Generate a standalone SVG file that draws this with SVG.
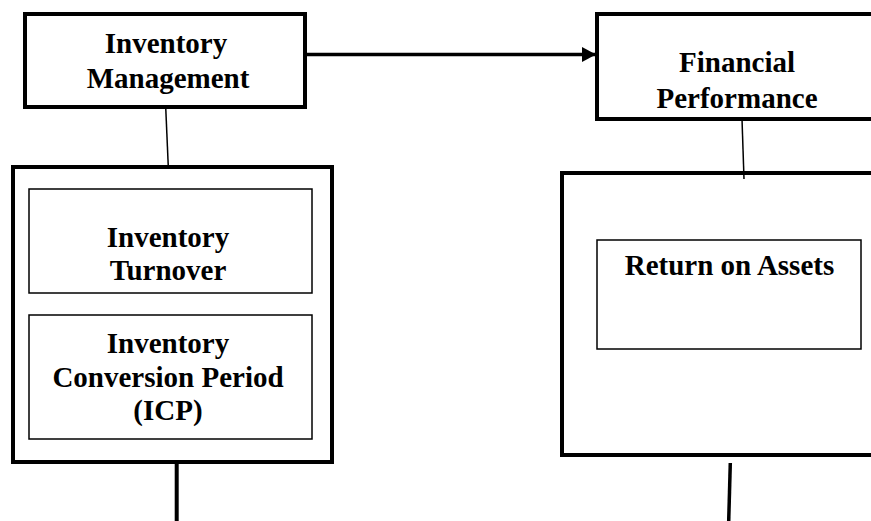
<svg xmlns="http://www.w3.org/2000/svg" width="871" height="521" viewBox="0 0 871 521">
<style>
  .thick { fill: #fff; stroke: #000; stroke-width: 4; }
  .thin { fill: #fff; stroke: #000; stroke-width: 1.5; }
  .lbl { font-family: "Liberation Serif", "Times New Roman", serif; font-weight: bold; font-size: 29px; fill: #000; text-anchor: middle; }
  .c1 { stroke: #000; stroke-width: 1.5; fill: none; }
  .c3 { stroke: #000; stroke-width: 3.5; fill: none; }
</style>
<defs>
  <marker id="ah" markerWidth="14" markerHeight="15" refX="13" refY="7.5" orient="auto" markerUnits="userSpaceOnUse">
    <path d="M0,0 L14,7.5 L0,15 Z" fill="#000"/>
  </marker>
</defs>
<rect width="871" height="521" fill="#fff"/>
<g id="n-inv-mgmt">
  <rect class="thick" x="25" y="14" width="280" height="93"/>
  <text class="lbl" x="166" y="53">Inventory</text>
  <text class="lbl" x="168" y="88">Management</text>
</g>
<g id="n-fin-perf">
  <rect class="thick" x="597" y="14" width="285" height="105"/>
  <text class="lbl" x="737" y="72">Financial</text>
  <text class="lbl" x="737" y="108">Performance</text>
</g>
<g id="n-left-group">
  <rect class="thick" x="13" y="167" width="319" height="295"/>
</g>
<g id="n-inv-turnover">
  <rect class="thin" x="29" y="189" width="283" height="104"/>
  <text class="lbl" x="168" y="247">Inventory</text>
  <text class="lbl" x="168" y="280">Turnover</text>
</g>
<g id="n-icp">
  <rect class="thin" x="29" y="315" width="283" height="124"/>
  <text class="lbl" x="168" y="353">Inventory</text>
  <text class="lbl" x="168" y="387">Conversion Period</text>
  <text class="lbl" x="168" y="420">(ICP)</text>
</g>
<g id="n-right-group">
  <rect class="thick" x="562" y="173" width="320" height="282"/>
</g>
<g id="n-roa">
  <rect class="thin" x="597" y="240" width="264" height="109"/>
  <text class="lbl" x="729.5" y="275">Return on Assets</text>
</g>
<g id="connectors">
  <line class="c3" x1="305" y1="54.5" x2="595" y2="54.5" marker-end="url(#ah)"/>
  <line class="c1" x1="165.7" y1="107" x2="168.3" y2="167"/>
  <line class="c1" x1="742" y1="119" x2="744" y2="179"/>
  <line stroke="#000" stroke-width="4" x1="176.7" y1="462" x2="176.7" y2="521"/>
  <line stroke="#000" stroke-width="3.5" x1="730.3" y1="463" x2="728.7" y2="521"/>
</g>
</svg>
